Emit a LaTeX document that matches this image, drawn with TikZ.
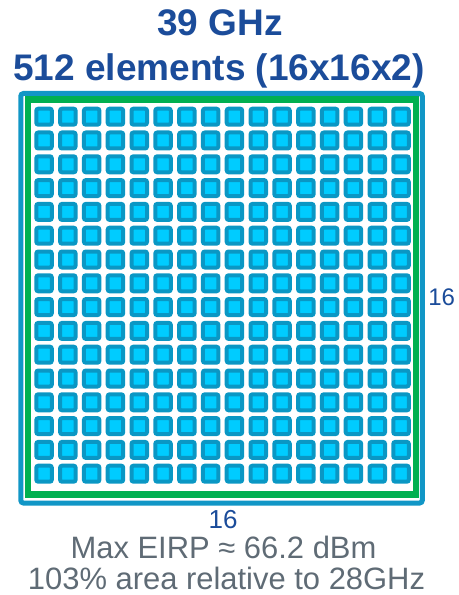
\documentclass[tikz,border=0pt]{standalone}
\usepackage{fontspec}
\setmainfont{Liberation Sans}
\usepackage{xcolor}
\definecolor{navy}{HTML}{1B4C9A}
\definecolor{frame}{HTML}{1196C6}
\definecolor{leaf}{HTML}{00B050}
\definecolor{patch}{HTML}{00CCFF}
\definecolor{patchrim}{HTML}{0A97C4}
\definecolor{ash}{HTML}{5F6B75}
\usepackage{tikz}
\usetikzlibrary{positioning}
\tikzset{
  ttl/.style={font=\bfseries\fontsize{27.75}{33}\selectfont,text=navy,anchor=base,inner sep=0pt},
  dim/.style={text=navy,anchor=base,inner sep=0pt},
  note/.style={font=\fontsize{23.2}{28}\selectfont,text=ash,anchor=base,inner sep=0pt},
  housing/.style={draw=frame,line width=3.75pt,rounded corners=2pt},
  board/.style={draw=leaf,line width=4.9pt},
  patchcell/.style={draw=patchrim,fill=patch,line width=3pt,rounded corners=1.5pt},
}

\begin{document}
\begin{tikzpicture}[x=0.75pt,y=-0.75pt]
  \useasboundingbox (0,0) rectangle (458,595);
  % frames
  \draw[housing] (20.8,93.5) rectangle (422.3,503);
  \draw[board] (27.8,99.7) rectangle (416,494.5);
  % 16x16 patches
  \foreach \i in {0,...,15}
    \foreach \j in {0,...,15}
      \draw[patchcell] ({36.3+23.8*\i},{108.7+23.8*\j}) rectangle +(15.5,16);
  % labels
  \node[ttl] (freq) at (220,36) {39 GHz};
  \node[ttl] (count) at (219,80.5) {512 elements (16x16x2)};
  \node[dim,font=\fontsize{18}{20}\selectfont,anchor=base west] (rows) at (428,305) {16};
  \node[dim,font=\fontsize{19.5}{22}\selectfont] (cols) at (223,528) {16};
  \node[note] (eirp) at (223.5,558) {Max EIRP ≈ 66.2 dBm};
  \node[note] (area) at (226.5,589) {103\% area relative to 28GHz};
\end{tikzpicture}
\end{document}
